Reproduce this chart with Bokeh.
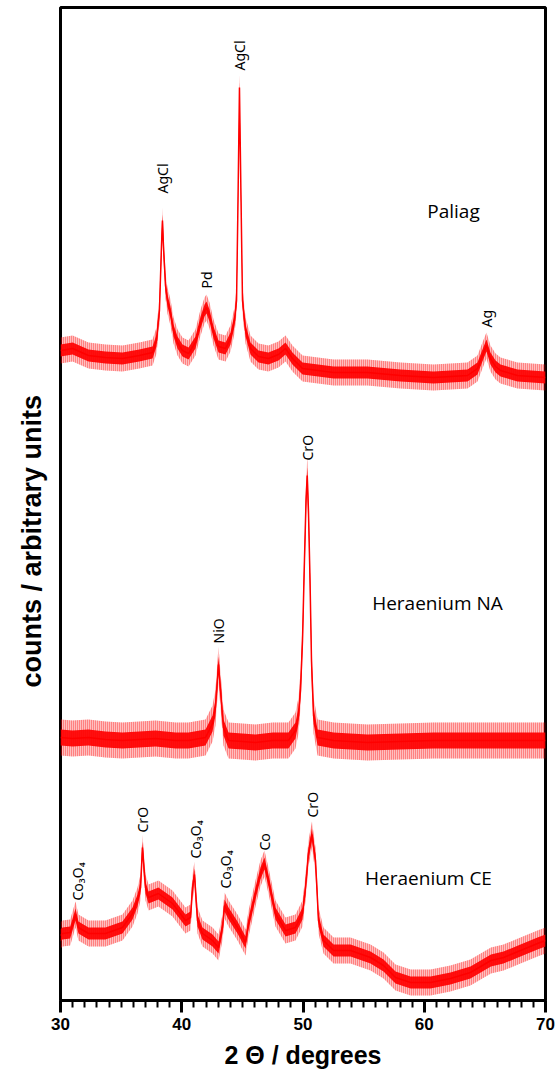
import numpy as np
from bokeh.plotting import figure
from bokeh.models import Range1d, FixedTicker, Title
from bokeh.core.properties import value
from bokeh.embed import file_html
from bokeh.resources import INLINE

# ---------------- data (2-theta in degrees, intensity in arbitrary units, traces offset) ----------------
paliag_x = [30.00, 31.00, 32.31, 33.71, 35.11, 36.50, 37.59, 37.92, 38.16, 38.33, 38.41, 38.49, 38.66, 38.82,
            39.07, 39.32, 39.65, 40.06, 40.56, 41.13, 41.55, 41.88, 42.04, 42.29, 42.62, 43.03, 43.61, 44.02,
            44.35, 44.52, 44.64, 44.76, 44.89, 45.01, 45.26, 45.67, 46.33, 47.15, 47.98, 48.56, 49.13, 49.96,
            52.52, 55.32, 58.04, 60.76, 63.57, 64.39, 64.80, 65.13, 65.46, 65.88, 66.29, 67.69, 70.00]
paliag_y = [650, 652, 645, 643, 642, 645, 648, 660, 690, 755, 780, 755, 715, 700,
            688, 670, 658, 650, 647, 658, 678, 690, 693, 685, 668, 654, 652, 662,
            680, 700, 800, 913, 800, 700, 670, 652, 644, 642, 646, 652, 642, 632,
            628, 628, 625, 623, 625, 632, 645, 655, 642, 634, 630, 625, 623]

na_x = [30.00, 31.00, 32.31, 33.71, 35.11, 36.50, 37.84, 39.50, 40.56, 41.96, 42.54, 42.78, 43.03, 43.20,
        43.44, 43.86, 45.00, 46.08, 47.50, 48.80, 49.38, 49.63, 49.79, 49.96, 50.12, 50.25, 50.35, 50.45,
        50.58, 50.70, 50.87, 51.20, 52.52, 55.32, 58.04, 60.76, 63.57, 66.29, 70.00]
na_y = [263, 262, 263, 261, 260, 261, 262, 260, 260, 263, 277, 293, 336, 310,
        273, 260, 259, 258, 260, 260, 270, 285, 310, 360, 440, 500, 525, 490,
        420, 340, 285, 263, 260, 258, 259, 260, 260, 260, 260]

ce_x = [30.00, 30.16, 30.80, 31.24, 31.48, 32.31, 33.71, 35.11, 35.94, 36.35, 36.60, 36.76, 37.01, 37.26,
        38.08, 39.24, 40.31, 40.72, 40.89, 41.05, 41.30, 41.71, 42.54, 43.03, 43.36, 43.53, 43.86, 44.60,
        45.26, 45.51, 46.08, 46.49, 46.82, 47.15, 47.73, 48.56, 49.38, 49.96, 50.21, 50.45, 50.74, 51.03,
        51.28, 51.69, 52.52, 53.92, 55.57, 56.64, 57.63, 58.87, 60.52, 62.16, 63.81, 65.50, 66.54, 67.94,
        69.34, 70.00]
ce_y = [65, 67, 68, 86, 73, 67, 67, 73, 87, 100, 113, 153, 113, 103,
        107, 97, 80, 83, 113, 126, 80, 67, 60, 53, 73, 95, 87, 73,
        58, 77, 107, 127, 137, 120, 87, 70, 73, 87, 113, 147, 166, 140,
        80, 60, 50, 50, 43, 35, 23, 18, 18, 22, 28, 40, 43, 50,
        57, 60]

peak_labels = ["AgCl", "Pd", "AgCl", "Ag", "NiO", "CrO",
               "Co\u2083O\u2084", "CrO", "Co\u2083O\u2084", "Co\u2083O\u2084", "Co", "CrO"]
peak_x = [38.41, 42.04, 44.76, 65.13, 43.03, 50.37, 31.40, 36.76, 41.13, 43.61, 46.82, 50.78]
peak_y = [807, 712, 930, 673, 357, 540, 100, 168, 142, 112, 150, 183]

sample_names = ["Paliag", "Heraenium NA", "Heraenium CE"]
sample_x = [62.41, 61.09, 60.35]
sample_y = [790, 398, 123]

x_ticks = [30, 40, 50, 60, 70]
x_minor = [v for v in range(31, 70) if v % 10 != 0]

# ---------------- figure ----------------
RED = "#ff0000"
p = figure(width=558, height=1076, x_range=Range1d(30, 70), y_range=Range1d(0, 993),
           output_backend="svg", toolbar_location=None, y_axis_location=None,
           min_border_left=60, min_border_right=13, min_border_top=7, min_border_bottom=76)
p.background_fill_color = "white"
p.border_fill_color = "white"
p.outline_line_color = "black"
p.outline_line_width = 3
p.xgrid.visible = False
p.ygrid.visible = False

for xs, ys, outer, inner in [(paliag_x, paliag_y, 13, 6), (na_x, na_y, 18, 8), (ce_x, ce_y, 13, 6)]:
    xa = np.array(xs, dtype=float)
    ya = np.array(ys, dtype=float)
    p.varea(x=xa, y1=ya - outer, y2=ya + outer, fill_color=RED, fill_alpha=0.25,
            hatch_pattern="vertical_line", hatch_color=RED, hatch_alpha=0.65,
            hatch_scale=2, hatch_weight=1)
    p.varea(x=xa, y1=ya - inner, y2=ya + inner, fill_color=RED, fill_alpha=0.92)
    p.line(x=xa, y=ya, line_color=RED, line_width=1.5)

p.text(x=peak_x, y=peak_y, text=peak_labels, angle=np.pi / 2, text_align="left",
       text_baseline="middle", text_font=value("Noto Sans"), text_font_size="14px",
       text_color="black")

p.text(x=sample_x, y=sample_y, text=sample_names, text_align="center", text_baseline="middle",
       text_font=value("Open Sans"), text_font_size="19px", text_color="black")

ax = p.xaxis[0]
ax.ticker = FixedTicker(ticks=x_ticks, minor_ticks=x_minor)
ax.axis_line_width = 3
ax.axis_line_color = "black"
ax.major_tick_in = 0
ax.major_tick_out = 12
ax.major_tick_line_width = 3
ax.minor_tick_in = 0
ax.minor_tick_out = 7
ax.minor_tick_line_width = 2
ax.major_label_text_font = "Liberation Sans"
ax.major_label_text_font_style = "bold"
ax.major_label_text_font_size = "17px"
ax.major_label_text_color = "black"
ax.major_label_standoff = 5
ax.axis_label = "2 \u0398 / degrees"
ax.axis_label_text_font = "Liberation Sans"
ax.axis_label_text_font_style = "bold"
ax.axis_label_text_font_size = "25px"
ax.axis_label_text_color = "black"
ax.axis_label_standoff = 8

ytitle = Title(text="counts / arbitrary units", align="left", offset=313,
               text_font="Liberation Sans", text_font_style="bold", text_font_size="27px",
               text_color="black", standoff=27)
p.add_layout(ytitle, "left")

open("out.html", "w").write(file_html(p, INLINE))
